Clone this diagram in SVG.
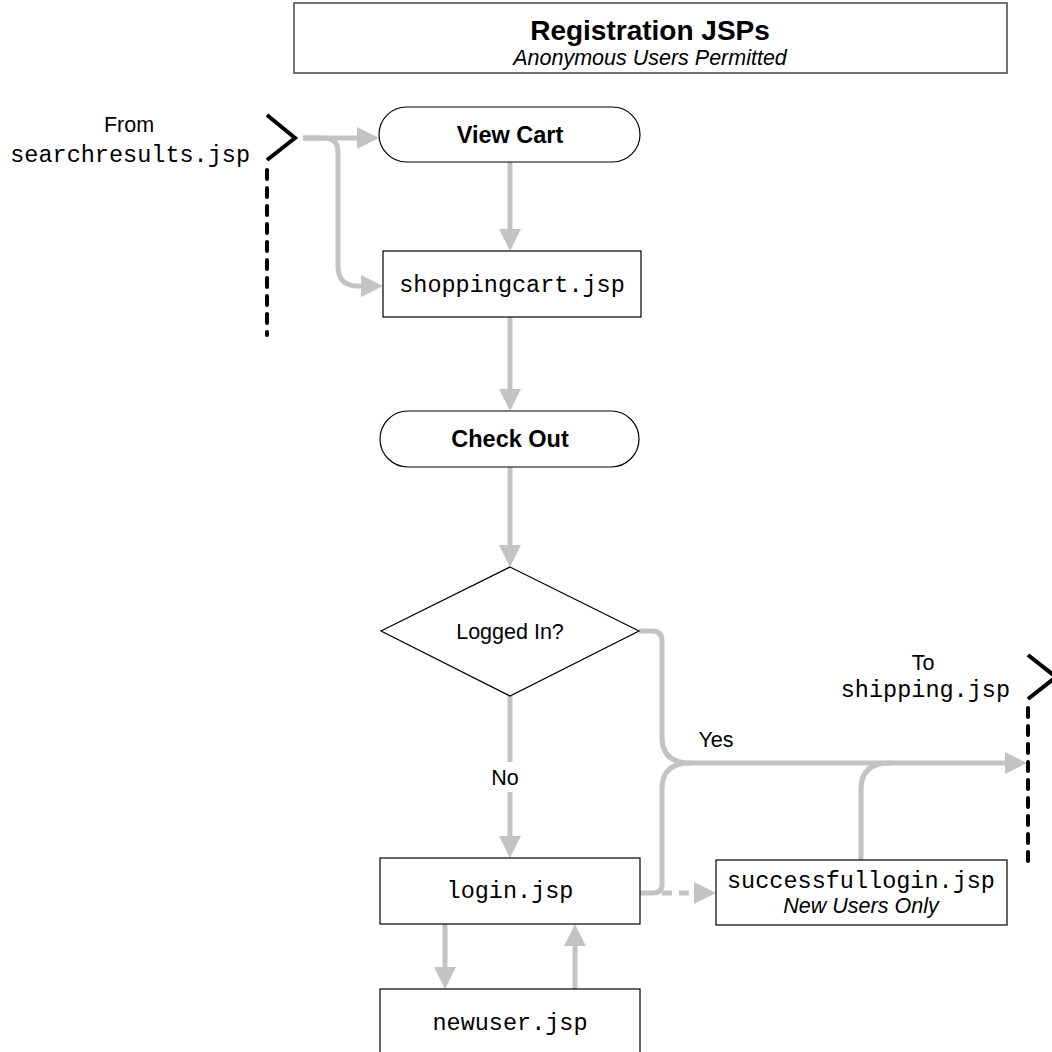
<svg xmlns="http://www.w3.org/2000/svg" width="1052" height="1052" viewBox="0 0 1052 1052">
<style>
.box{fill:#fff;stroke:#000;stroke-width:1.2}
.sans{font-family:"Liberation Sans",Arial,sans-serif;fill:#000}
.mono{font-family:"Liberation Mono","Courier New",monospace;font-size:23.5px;fill:#000}
.bold{font-weight:bold;font-size:23.5px}
.reg{font-size:21.5px}
.ital{font-style:italic;font-size:21.5px}
.conn{fill:none;stroke:#c3c3c3;stroke-width:5}
.arr{marker-end:url(#ah)}
.dash{stroke-dasharray:10 7}
.bound{fill:none;stroke:#000;stroke-width:4}
.bdash{fill:none;stroke:#000;stroke-width:4;stroke-dasharray:9 9;stroke-linecap:round}
</style>
<defs>
<marker id="ah" viewBox="0 0 22 22" markerWidth="22" markerHeight="22" markerUnits="userSpaceOnUse" refX="12" refY="11" orient="auto">
<path d="M0,0 L22,11 L0,22 z" fill="#c3c3c3"/>
</marker>
</defs>
<rect width="1052" height="1052" fill="#fff"/>

<g id="title">
<rect class="box" x="294" y="3" width="713" height="70" style="stroke:#444;stroke-width:1.5"/>
<text class="sans bold" x="650" y="40" text-anchor="middle" style="font-size:28px">Registration JSPs</text>
<text class="sans ital" x="650" y="65" text-anchor="middle">Anonymous Users Permitted</text>
</g>

<g id="connectors">
<path class="conn arr" d="M303,138 H369"/>
<path class="conn arr" d="M303,138 H324 Q338,138 338,152 V266 Q338,286 358,286 H373"/>
<path class="conn arr" d="M510,162 V241"/>
<path class="conn arr" d="M510,317 V401"/>
<path class="conn arr" d="M510,467 V557"/>
<path class="conn arr" d="M510,696 V848"/>
<path class="conn arr" d="M639,631 H652 Q662,631 662,641 V737 Q662,763 690,763 H1017"/>
<path class="conn" d="M640,893 H653 Q662,893 662,884 V789 Q662,763 690,763"/>
<path class="conn arr dash" d="M662,893 H706"/>
<path class="conn" d="M861,860 V789 Q861,763 890,763"/>
<path class="conn arr" d="M445,924 V979"/>
<path class="conn arr" d="M575,989 V934"/>
<rect x="488" y="762" width="40" height="30" fill="#fff"/>
<text class="sans reg" x="505" y="785" text-anchor="middle">No</text>
<text class="sans reg" x="716" y="747" text-anchor="middle">Yes</text>
</g>

<g id="from-searchresults">
<text class="sans reg" x="129" y="132" text-anchor="middle">From</text>
<text class="mono" x="250" y="162" text-anchor="end">searchresults.jsp</text>
<polyline class="bound" points="267,115 295,138 267,160"/>
<line class="bdash" x1="267" y1="170" x2="267" y2="335"/>
</g>

<g id="to-shipping">
<text class="sans reg" x="923" y="670" text-anchor="middle">To</text>
<text class="mono" x="1010" y="697" text-anchor="end">shipping.jsp</text>
<polyline class="bound" points="1028,655 1056,677 1028,699"/>
<line class="bdash" x1="1028" y1="708" x2="1028" y2="868"/>
</g>

<g id="view-cart">
<rect class="box" x="379" y="107" width="261" height="55" rx="27.5"/>
<text class="sans bold" x="510" y="143" text-anchor="middle">View Cart</text>
</g>

<g id="shoppingcart">
<rect class="box" x="383" y="251" width="258" height="66"/>
<text class="mono" x="512" y="292" text-anchor="middle">shoppingcart.jsp</text>
</g>

<g id="check-out">
<rect class="box" x="380" y="411" width="259" height="56" rx="28"/>
<text class="sans bold" x="510" y="447" text-anchor="middle">Check Out</text>
</g>

<g id="logged-in">
<polygon class="box" points="510,567 639,631 510,696 381,631"/>
<text class="sans reg" x="510" y="639" text-anchor="middle">Logged In?</text>
</g>

<g id="login">
<rect class="box" x="380" y="858" width="260" height="66"/>
<text class="mono" x="510" y="898" text-anchor="middle">login.jsp</text>
</g>

<g id="successfullogin">
<rect class="box" x="716" y="860" width="291" height="65"/>
<text class="mono" x="861" y="888" text-anchor="middle">successfullogin.jsp</text>
<text class="sans ital" x="861" y="913" text-anchor="middle">New Users Only</text>
</g>

<g id="newuser">
<rect class="box" x="380" y="989" width="260" height="80"/>
<text class="mono" x="510" y="1030" text-anchor="middle">newuser.jsp</text>
</g>
</svg>
